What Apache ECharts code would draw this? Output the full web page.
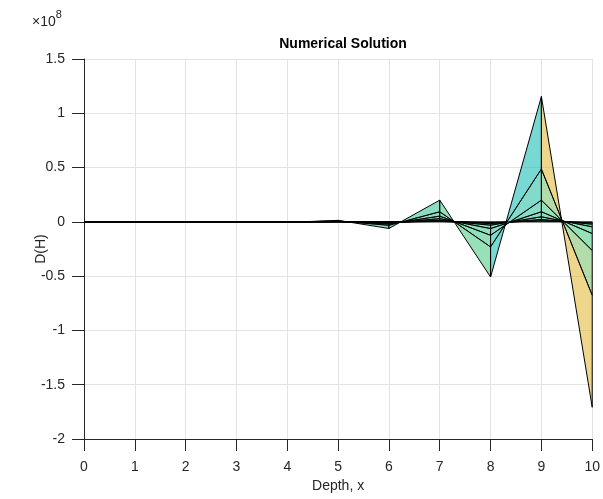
<!DOCTYPE html>
<html>
<head>
<meta charset="utf-8">
<script src="https://cdn.jsdelivr.net/npm/echarts@6/dist/echarts.min.js"></script>
<style>
html,body{margin:0;padding:0;background:#fff;}
#chart{width:603px;height:499px;}
</style>
</head>
<body>
<div id="chart"></div>
<script>
// Depth nodes
const depth = [0, 1, 2, 3, 4, 5, 6, 7, 8, 9, 10];
// D(H) curves in units of 1e8, earliest time first
const curveT0 = [0, 0, 0, 0, 0, 0, 0, 0, 0, 0, 0];
const curveT1 = [0, 0, 0, 0, 0, 0, -0.001, 0.004, -0.008, 0.010, -0.010];
const curveT2 = [0, 0, 0, 0, 0, 0.001, -0.003, 0.008, -0.016, 0.022, -0.022];
const curveT3 = [0, 0, 0, 0, -0.001, 0.002, -0.007, 0.015, -0.031, 0.047, -0.046];
const curveT4 = [0, 0, 0, 0, -0.001, 0.003, -0.012, 0.030, -0.062, 0.093, -0.108];
const curveT5 = [0, 0, 0, 0, -0.002, 0.005, -0.020, 0.053, -0.124, 0.200, -0.264];
const curveT6 = [0, 0, 0, 0, -0.003, 0.008, -0.032, 0.093, -0.231, 0.487, -0.677];
const curveT7 = [0, 0, 0, 0, -0.005, 0.014, -0.061, 0.200, -0.508, 1.154, -1.708];
const curves = [curveT0, curveT1, curveT2, curveT3, curveT4, curveT5, curveT6, curveT7];
const xTicks = [0, 1, 2, 3, 4, 5, 6, 7, 8, 9, 10];
const yTicks = [-2, -1.5, -1, -0.5, 0, 0.5, 1, 1.5];

// parula-like colormap stops (style)
const parula = [
  [0.2422, 0.1504, 0.6603],
  [0.2810, 0.3228, 0.9579],
  [0.1786, 0.5289, 0.9682],
  [0.0689, 0.6376, 0.8418],
  [0.0590, 0.7231, 0.7304],
  [0.2803, 0.7964, 0.5266],
  [0.8800, 0.7200, 0.2300],
  [0.9598, 0.7354, 0.2150],
  [0.9763, 0.9831, 0.0538]
];
let cmin = Infinity, cmax = -Infinity;
curves.forEach(c => c.forEach(v => { cmin = Math.min(cmin, v); cmax = Math.max(cmax, v); }));
function colorFor(v) {
  let t = (v - cmin) / (cmax - cmin);
  t = Math.max(0, Math.min(1, t));
  const f = t * (parula.length - 1);
  const i = Math.min(parula.length - 2, Math.floor(f));
  const u = f - i;
  const a = parula[i], b = parula[i + 1];
  const rgb = [0, 1, 2].map(j => Math.round(255 * (a[j] + (b[j] - a[j]) * u)));
  return 'rgba(' + rgb.join(',') + ',0.58)';
}

const quads = [];
for (let k = 0; k < curves.length - 1; k++) {
  for (let i = 0; i < depth.length - 1; i++) {
    quads.push([depth[i], curves[k][i], depth[i + 1], curves[k][i + 1], curves[k + 1][i + 1], curves[k + 1][i]]);
  }
}

const font = '"Liberation Sans", Arial, Helvetica, sans-serif';
const chart = echarts.init(document.getElementById('chart'), null, {renderer: 'canvas'});
chart.setOption({
  animation: false,
  backgroundColor: '#fff',
  title: {
    text: 'Numerical Solution',
    left: 338, top: 32, textAlign: 'center',
    textStyle: {fontFamily: font, fontSize: 14, fontWeight: 'bold', color: '#000'}
  },
  graphic: [{
    type: 'text', left: 32, top: 9,
    style: {
      text: '{a|×10}{b|8}',
      rich: {
        a: {fontFamily: font, fontSize: 14, fill: '#262626', padding: [6, 0, 0, 0]},
        b: {fontFamily: font, fontSize: 11, fill: '#262626', verticalAlign: 'top'}
      }
    }
  }],
  grid: {left: 84, right: 10, top: 59, bottom: 60},
  xAxis: {
    type: 'value', min: 0, max: 10, interval: 1,
    name: 'Depth, x', nameLocation: 'middle', nameGap: 38,
    nameTextStyle: {fontFamily: font, fontSize: 14, color: '#262626'},
    axisLine: {show: true, onZero: false, lineStyle: {color: '#262626', width: 1}},
    axisTick: {show: true, inside: false, length: 12, lineStyle: {color: '#262626'}},
    axisLabel: {fontFamily: font, fontSize: 14, color: '#262626', margin: 21},
    splitLine: {show: true, lineStyle: {color: '#e3e3e3', width: 1}}
  },
  yAxis: {
    type: 'value', min: -2, max: 1.5, interval: 0.5,
    name: 'D(H)', nameLocation: 'middle', nameGap: 36, nameMoveOverlap: false,
    nameTextStyle: {fontFamily: font, fontSize: 14, color: '#262626'},
    axisLine: {show: true, onZero: false, lineStyle: {color: '#262626', width: 1}},
    axisTick: {show: true, inside: false, length: 12, lineStyle: {color: '#262626'}},
    axisLabel: {fontFamily: font, fontSize: 14, color: '#262626', margin: 19,
      formatter: v => String(v)},
    splitLine: {show: true, lineStyle: {color: '#e3e3e3', width: 1}}
  },
  series: [{
    type: 'custom',
    data: quads,
    encode: {x: [0, 2], y: [1, 3, 4, 5]},
    clip: true,
    renderItem: function (params, api) {
      const pts = [
        api.coord([api.value(0), api.value(1)]),
        api.coord([api.value(2), api.value(3)]),
        api.coord([api.value(2), api.value(4)]),
        api.coord([api.value(0), api.value(5)])
      ];
      return {
        type: 'polygon',
        shape: {points: pts},
        style: {fill: colorFor(api.value(1)), stroke: '#000', lineWidth: 1}
      };
    }
  }]
});
</script>
</body>
</html>
